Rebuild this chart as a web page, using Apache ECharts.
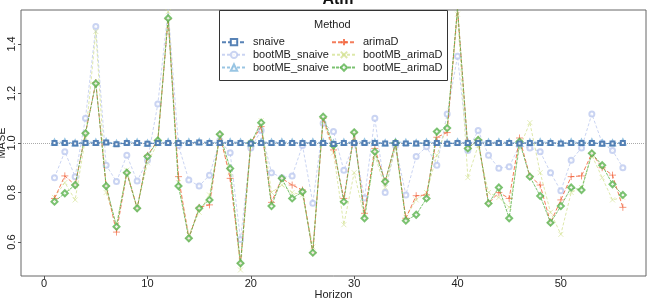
<!DOCTYPE html>
<html>
<head>
<meta charset="utf-8">
<script src="https://cdn.jsdelivr.net/npm/echarts@6/dist/echarts.min.js"></script>
<style>
  html, body { margin: 0; padding: 0; background: #fff; }
  #main { width: 647px; height: 301px; }
</style>
</head>
<body>
<div id="main"></div>
<script>
"use strict";

// 横轴：预测步长 1..56
let horizon = [];
for (let i = 1; i <= 56; i++) horizon.push(i);

let xTicks = [0, 10, 20, 30, 40, 50];
let yTicks = [0.6, 0.8, 1.0, 1.2, 1.4];

let snaive = [1.0, 1.0, 0.998, 1.0, 1.0, 1.002, 0.995, 1.0, 1.0, 0.997, 1.0, 1.0, 1.0, 1.0, 1.002, 1.0,
  1.0, 1.0, 1.0, 0.998, 1.0, 1.0, 1.0, 1.0, 1.0, 1.0, 1.0, 0.996, 1.0, 1.0, 1.0, 1.0,
  0.998, 1.0, 0.998, 0.998, 1.0, 1.0, 0.997, 1.0, 1.0, 1.0, 1.0, 1.0, 1.0, 0.998, 1.0, 1.0,
  1.0, 0.998, 1.0, 1.0, 1.0, 0.997, 0.998, 1.0];
let bootMB_snaive = [0.86, 0.965, 0.864, 1.10, 1.47, 0.91, 0.844, 0.95, 0.846, 0.93, 1.157, 1.54, 0.99, 0.85,
  0.826, 0.87, 1.01, 0.96, 0.61, 0.98, 1.05, 0.88, 0.86, 0.867, 0.99, 0.757, 1.08, 1.046,
  0.89, 1.0, 0.778, 1.10, 0.80, 0.99, 0.79, 0.945, 0.985, 0.91, 1.117, 1.35, 0.97, 1.05,
  0.95, 0.898, 0.904, 0.99, 0.98, 0.965, 0.88, 0.807, 0.93, 0.98, 1.117, 1.0, 0.97, 0.90];
let bootME_snaive = [1.003, 1.004, 1.0, 1.004, 1.003, 1.005, 0.998, 1.004, 1.003, 0.999, 1.003, 1.004, 1.002, 1.004,
  1.005, 1.003, 1.002, 1.004, 1.003, 1.0, 1.004, 1.003, 1.004, 1.003, 1.002, 1.004, 1.003, 0.999,
  1.003, 1.004, 1.004, 1.003, 1.0, 1.004, 1.002, 1.0, 1.003, 1.003, 1.0, 1.004, 1.003, 1.004,
  1.003, 1.004, 1.003, 1.0, 1.003, 1.004, 1.002, 1.0, 1.004, 1.003, 1.004, 1.0, 1.0, 1.004];
let arimaD = [0.776, 0.867, 0.83, 1.04, 1.244, 0.826, 0.64, 0.88, 0.736, 0.95, 1.01, 1.50, 0.864, 0.615,
  0.74, 0.75, 1.035, 0.857, 0.514, 1.0, 1.066, 0.76, 0.857, 0.83, 0.81, 0.557, 1.10, 0.972,
  0.776, 1.04, 0.716, 0.978, 0.844, 1.0, 0.696, 0.787, 0.79, 1.023, 1.042, 1.545, 0.98, 1.012,
  0.756, 0.80, 0.776, 1.02, 0.866, 0.83, 0.678, 0.77, 0.864, 0.867, 0.958, 0.90, 0.87, 0.74];
let bootMB_arimaD = [0.78, 0.84, 0.77, 1.02, 1.45, 0.80, 0.67, 0.89, 0.74, 0.92, 1.0, 1.53, 0.84, 0.63,
  0.72, 0.79, 1.02, 0.88, 0.487, 0.99, 1.09, 0.80, 0.83, 0.80, 0.79, 0.58, 1.09, 0.96,
  0.67, 0.88, 0.70, 0.95, 0.82, 0.98, 0.70, 0.77, 0.80, 0.95, 1.07, 1.52, 0.86, 0.99,
  0.80, 0.78, 0.74, 0.98, 1.082, 0.88, 0.72, 0.631, 0.80, 0.82, 0.95, 0.86, 0.77, 0.78];
let bootME_arimaD = [0.763, 0.797, 0.83, 1.039, 1.24, 0.826, 0.662, 0.88, 0.736, 0.945, 1.01, 1.504, 0.826, 0.615,
  0.736, 0.77, 1.035, 0.897, 0.514, 1.0, 1.082, 0.745, 0.857, 0.776, 0.803, 0.557, 1.106, 0.99,
  0.763, 1.043, 0.696, 0.965, 0.844, 1.0, 0.686, 0.71, 0.776, 1.046, 1.06, 1.545, 0.978, 1.012,
  0.756, 0.82, 0.696, 1.005, 0.864, 0.786, 0.678, 0.745, 0.82, 0.81, 0.958, 0.91, 0.833, 0.79];

let FONT = '"Liberation Sans", Arial, sans-serif';
let PLUS = 'path://M0,5L10,5M5,0L5,10';
let CROSS = 'path://M0,0L10,10M10,0L0,10';

function pairs(vals) {
  return horizon.map(function (h, i) { return [h, vals[i]]; });
}

function makeSeries(name, vals, color, symbol, dash, z, size, lineOpacity) {
  let isPath = symbol.indexOf('path://') === 0;
  return {
    name: name,
    type: 'line',
    data: pairs(vals),
    z: z,
    symbol: symbol,
    symbolSize: size,
    clip: true,
    lineStyle: { color: color, width: 1, type: dash, opacity: lineOpacity },
    itemStyle: isPath
      ? { color: color, borderColor: color, borderWidth: 0.8, opacity: lineOpacity }
      : { color: color, borderWidth: 0.7, opacity: lineOpacity },
    emphasis: { disabled: true },
  };
}

let myChart = echarts.init(document.getElementById('main'), null, { renderer: 'canvas' });

let series = [
  makeSeries('bootMB_snaive', bootMB_snaive, '#b8c6ee', 'emptyCircle', [3, 2], 2, 5, 0.75),
  makeSeries('bootME_snaive', bootME_snaive, '#7fb6dc', 'emptyTriangle', [3, 2], 2, 5, 0.8),
  makeSeries('bootMB_arimaD', bootMB_arimaD, '#d2e08e', CROSS, [3, 2], 2, 5, 0.75),
  makeSeries('arimaD', arimaD, '#f26640', PLUS, [4, 2], 3, 7, 0.85),
  makeSeries('bootME_arimaD', bootME_arimaD, '#5ab34e', 'emptyDiamond', [3, 1], 4, 6, 0.8),
  makeSeries('snaive', snaive, '#4675ae', 'emptyRect', [4, 2], 5, 4, 0.9),
];
// 1.0 参考虚线
series[5].markLine = {
  silent: true,
  symbol: 'none',
  label: { show: false },
  lineStyle: { color: '#aaa', type: 'dotted', width: 1 },
  data: [{ yAxis: 1 }],
};

let legendCommon = {
  orient: 'vertical',
  itemWidth: 24,
  itemHeight: 8,
  itemGap: 0,
  selectedMode: false,
  padding: 0,
  textStyle: { fontFamily: FONT, fontSize: 11, lineHeight: 12.7, color: '#222', padding: [0, 0, 0, 2] },
  z: 10,
};

let option = {
  animation: false,
  title: {
    text: 'Atm',
    left: 333,
    textAlign: 'center',
    top: -13,
    textStyle: { fontFamily: FONT, fontSize: 16, fontWeight: 'bold', color: '#111' },
  },
  grid: {
    left: 21, right: 1, top: 10, bottom: 25,
    containLabel: false,
    outerBoundsMode: 'none',
    show: true, borderColor: '#666', borderWidth: 1, backgroundColor: '#fff',
  },
  legend: [
    Object.assign({ left: 221, top: 35.8, data: ['snaive', 'bootMB_snaive', 'bootME_snaive'] }, legendCommon),
    Object.assign({ left: 331, top: 35.8, data: ['arimaD', 'bootMB_arimaD', 'bootME_arimaD'] }, legendCommon),
  ],
  graphic: [
    {
      type: 'rect', z: 6,
      shape: { x: 219.5, y: 10.5, width: 228, height: 70 },
      style: { fill: '#fff', stroke: '#333', lineWidth: 1 },
    },
    {
      type: 'text', z: 7, left: 333 - 19, top: 19.5,
      style: { text: 'Method', fontFamily: FONT, fontSize: 11, fill: '#222' },
    },
  ],
  xAxis: {
    type: 'value',
    min: -2.24,
    max: 58.24,
    name: 'Horizon',
    nameLocation: 'middle',
    nameGap: 13,
    nameMoveOverlap: false,
    nameTextStyle: { fontFamily: FONT, fontSize: 11, color: '#222' },
    axisLine: { show: false, onZero: false },
    axisTick: { show: true, length: 3, customValues: xTicks, lineStyle: { color: '#555' } },
    axisLabel: { customValues: xTicks, margin: 2, fontFamily: FONT, fontSize: 11, color: '#222' },
    splitLine: { show: false },
  },
  yAxis: {
    type: 'value',
    min: 0.4627,
    max: 1.537,
    name: 'MASE',
    nameLocation: 'middle',
    nameGap: 14,
    nameMoveOverlap: false,
    nameTextStyle: { fontFamily: FONT, fontSize: 11, color: '#222' },
    axisLine: { show: false, onZero: false },
    axisTick: { show: true, length: 3, customValues: yTicks, lineStyle: { color: '#555' } },
    axisLabel: {
      customValues: yTicks, rotate: 90, margin: 4, fontFamily: FONT, fontSize: 11, color: '#222',
      formatter: function (v) { return v.toFixed(1); },
    },
    splitLine: { show: false },
  },
  series: series,
};

myChart.setOption(option);
</script>
</body>
</html>
